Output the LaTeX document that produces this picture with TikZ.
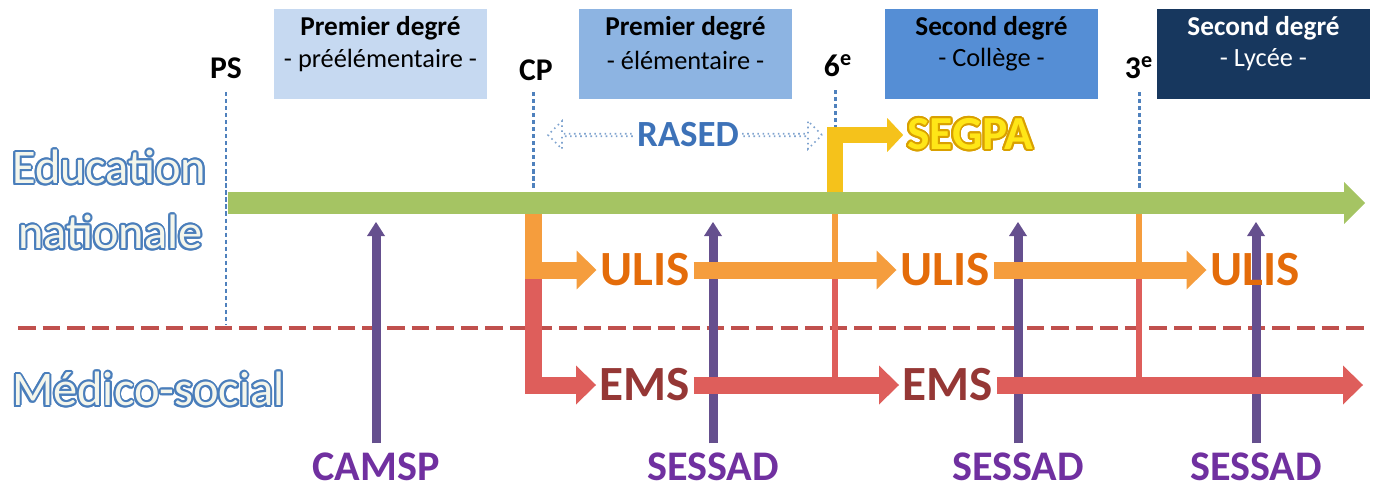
\documentclass[tikz,border=0pt]{standalone}
\usepackage{fontspec}
\setmainfont{Carlito}
\usepackage[copies]{contour}
\usetikzlibrary{arrows.meta,shapes.arrows,positioning}

\definecolor{boxA}{HTML}{C6D9F1}
\definecolor{boxB}{HTML}{8DB4E2}
\definecolor{boxC}{HTML}{558ED5}
\definecolor{boxD}{HTML}{17375E}
\definecolor{tickblue}{HTML}{4F81BD}
\definecolor{engreen}{HTML}{A5C463}
\definecolor{ulisorange}{HTML}{F59D3D}
\definecolor{ulisink}{HTML}{E46C0A}
\definecolor{emsred}{HTML}{DE5E5B}
\definecolor{emsink}{HTML}{953735}
\definecolor{sessadline}{HTML}{654F8E}
\definecolor{sessadink}{HTML}{7030A0}
\definecolor{segpagold}{HTML}{F5C21B}
\definecolor{segpaink}{HTML}{FFE617}
\definecolor{segpaedge}{HTML}{D9A000}
\definecolor{rasedblue}{HTML}{7FA3CF}
\definecolor{rasedink}{HTML}{3D72B8}
\definecolor{splitred}{HTML}{C0504D}
\definecolor{sidefill}{HTML}{F4F6EC}
\definecolor{sideedge}{HTML}{4A7EBB}

\contourlength{1.1pt}

\tikzset{
  lvlbox/.style={minimum width=4.26cm,minimum height=1.82cm,inner sep=0pt},
  lvltitle/.style={font=\fontsize{15.5}{18}\selectfont\bfseries},
  lvlsub/.style={font=\fontsize{15}{18}\selectfont},
  grade/.style={font=\fontsize{18}{20}\selectfont\bfseries},
  tick/.style={tickblue,line width=1.7pt,dash pattern=on 2.4pt off 1.6pt},
  sidetext/.style={anchor=west,text=sidefill,font=\fontsize{27.5}{30}\selectfont},
  bigtext/.style={font=\fontsize{28}{30}\selectfont\bfseries,inner sep=2pt},
  medtext/.style={font=\fontsize{24}{26}\selectfont\bfseries,text=sessadink},
  enarrow/.style={engreen,line width=0.44cm,-{Triangle[length=0.42cm,width=0.84cm,line width=0pt]}},
  ulisarrow/.style={ulisorange,line width=0.34cm,line join=miter,-{Triangle[length=0.4cm,width=0.78cm,line width=0pt]}},
  emsarrow/.style={emsred,line width=0.34cm,line join=miter,-{Triangle[length=0.4cm,width=0.78cm,line width=0pt]}},
  sessadarrow/.style={sessadline,line width=0.18cm,-{Triangle[length=0.28cm,width=0.36cm,line width=0pt]}},
  segpaarrow/.style={segpagold,line width=0.32cm,line join=miter,-{Triangle[length=0.32cm,width=0.68cm,line width=0pt]}},
  ulisthin/.style={ulisorange,line width=0.12cm},
  emsthin/.style={emsred,line width=0.12cm}
}

\begin{document}
\begin{tikzpicture}[x=0.02cm,y=-0.02cm]
  \useasboundingbox (0,0) rectangle (1379,497);

  % school levels
  \foreach \cx/\col/\ink/\ttl/\sub/\nm in {
      380.5/boxA/black/Premier degré/- préélémentaire -/pre,
      685.5/boxB/black/Premier degré/- élémentaire -/elem,
      991.5/boxC/black/Second degré/- Collège -/coll,
      1263.5/boxD/white/Second degré/- Lycée -/lyc}{
    \node[lvlbox,fill=\col] (\nm) at (\cx,54) {};
    \node[lvltitle,text=\ink] (\nm-t) at (\cx,28) {\ttl};
    \node[lvlsub,text=\ink] (\nm-s) at (\cx,60) {\sub};
  }

  % grades
  \node[grade] (ps) at (226,68) {PS};
  \node[grade] (cp) at (536,70) {CP};
  \node[grade] (six) at (838,66) {6\textsuperscript{e}};
  \node[grade] (three) at (1139,68) {3\textsuperscript{e}};
  \coordinate (ps-end) at (226,325);
  \coordinate (cp-end) at (533,190);
  \coordinate (six-end) at (835,130);
  \coordinate (three-end) at (1139,188);
  \draw[tick] (ps-end |- 0,92) -- (ps-end);
  \draw[tick] (cp-end |- 0,92) -- (cp-end);
  \draw[tick] (six-end |- 0,90) -- (six-end);
  \draw[tick] (three-end |- 0,92) -- (three-end);

  % sides
  \node[sidetext] (ed-a) at (6,168) {\contour{sideedge}{Education}};
  \node[sidetext] (ed-b) at (12,233) {\contour{sideedge}{nationale}};
  \node[sidetext] (medsoc) at (6,390) {\contour{sideedge}{Médico-social}};
  \coordinate (split-l) at (18,328);
  \coordinate (split-r) at (1365,328);
  \draw[splitred,line width=2.8pt,dash pattern=on 10pt off 4pt] (split-l) -- (split-r);

  % medico-social services
  \foreach \x/\t/\nm in {376/CAMSP/camsp, 713/SESSAD/sessadA, 1018/SESSAD/sessadB, 1256/SESSAD/sessadC}{
    \node[medtext] (\nm) at (\x,467) {\t};
    \coordinate (\nm-top) at (\x,222);
    \draw[sessadarrow,shorten <=2pt] (\nm) -- (\nm-top);
  }

  % ULIS / EMS paths
  \node[bigtext,text=ulisink] (ulisA) at (645,270) {ULIS};
  \node[bigtext,text=ulisink] (ulisB) at (945,270) {ULIS};
  \node[bigtext,text=ulisink] (ulisC) at (1255,270) {ULIS};
  \node[bigtext,text=emsink] (emsA) at (645,385) {EMS};
  \node[bigtext,text=emsink] (emsB) at (948,385) {EMS};
  \coordinate (ems-tip) at (1363,385);
  \coordinate (cp-fork) at (533,214);
  \coordinate (six-fork) at (835,214);
  \coordinate (three-fork) at (1139,214);

  \draw[emsthin] (six-fork |- ulisA) -- (six-fork |- emsA);
  \draw[ulisthin] (six-fork) -- (six-fork |- ulisA);
  \draw[emsthin] (three-fork |- ulisA) -- (three-fork |- emsA);
  \draw[ulisthin] (three-fork) -- (three-fork |- ulisA);

  \draw[emsarrow] (cp-fork) |- (emsA);
  \draw[ulisarrow] (cp-fork) |- (ulisA);
  \draw[ulisarrow] (ulisA) -- (ulisB);
  \draw[ulisarrow] (ulisB) -- (ulisC);
  \draw[emsarrow] (emsA) -- (emsB);
  \draw[emsarrow] (emsB) -- (ems-tip);

  % SEGPA
  \node[bigtext,font=\fontsize{27}{30}\selectfont\bfseries,text=segpaink] (segpa) at (970,135) {\contour{segpaedge}{SEGPA}};
  \coordinate (six-rise) at (835,203);
  \draw[segpaarrow] (six-rise) |- (segpa);

  % RASED
  \node[double arrow,draw=rasedblue,dotted,line width=0.9pt,fill=white,
        minimum height=5.48cm,minimum width=0.56cm,double arrow head extend=0.16cm,
        inner sep=0pt] (rased-arrow) at (685,135) {};
  \node[fill=white,inner sep=1pt,text=rasedink,font=\fontsize{21}{24}\selectfont\bfseries] (rased) at (688,135) {RASED};

  % Education nationale
  \coordinate (en-start) at (228,203);
  \coordinate (en-tip) at (1365,203);
  \draw[enarrow] (en-start) -- (en-tip);
\end{tikzpicture}
\end{document}
